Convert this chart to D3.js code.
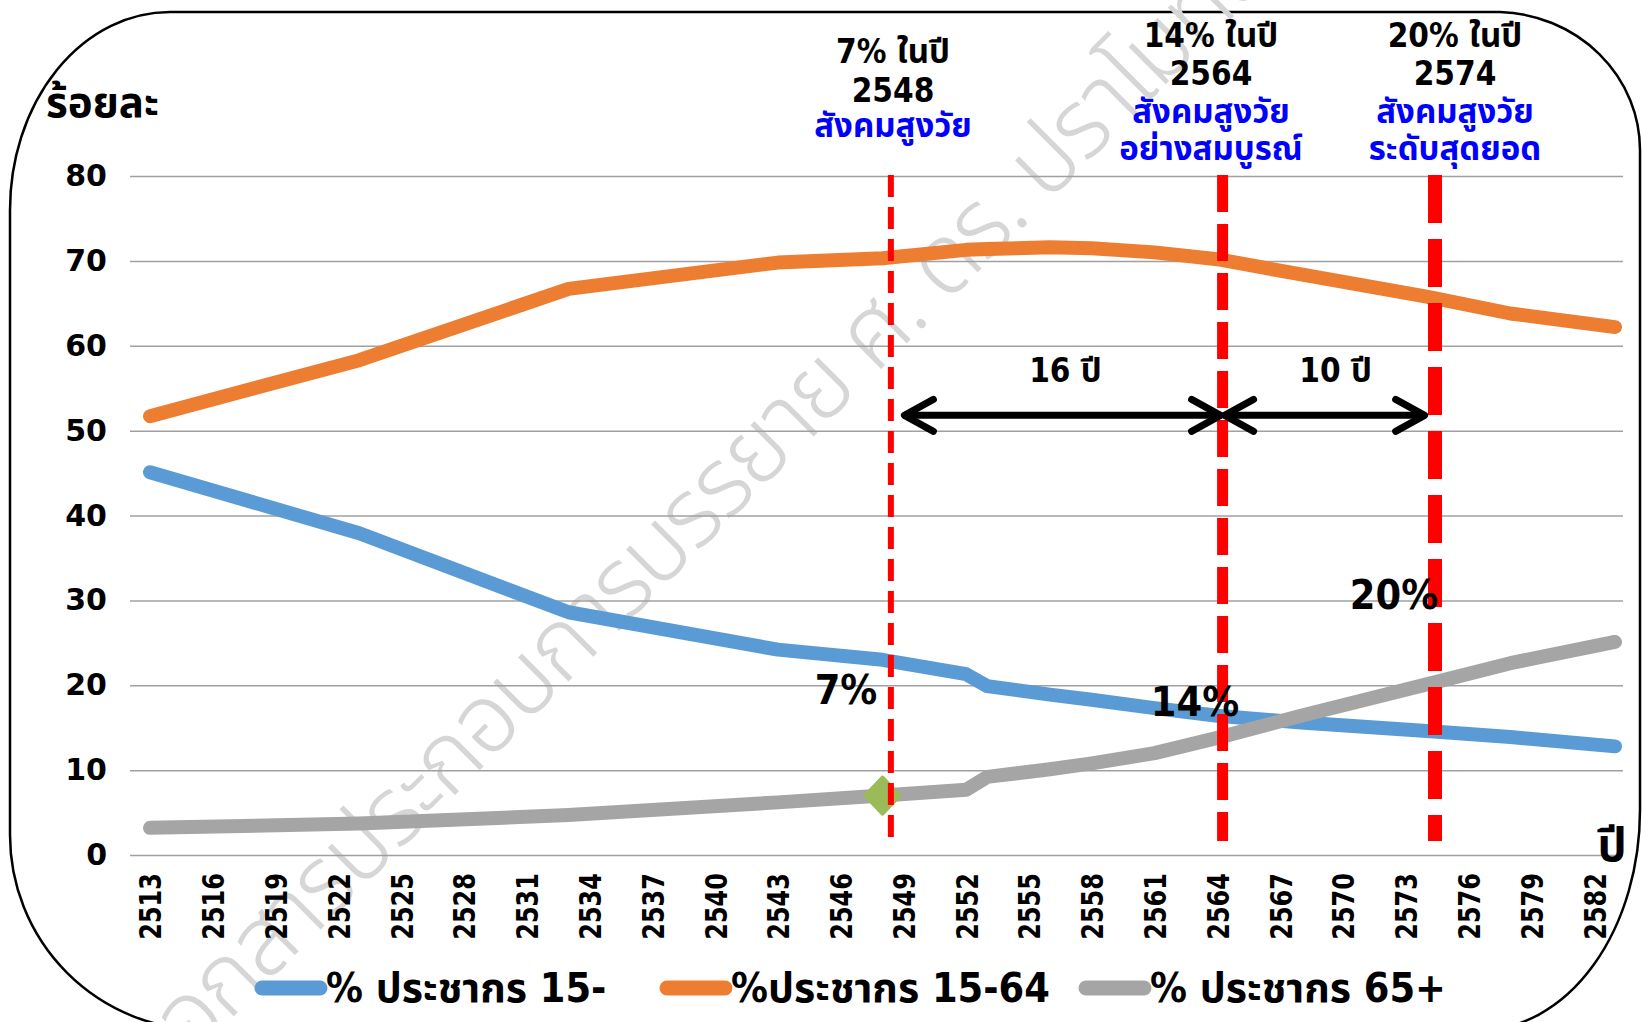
<!DOCTYPE html>
<html>
<head>
<meta charset="utf-8">
<script src="https://cdn.jsdelivr.net/npm/d3@7"></script>
<style>
  body { margin: 0; background: #fff; }
  svg { display: block; }
</style>
</head>
<body>
<div class="canva"></div>
<script>
// data (Buddhist-era years)
const years    = [2513, 2523, 2533, 2543, 2548, 2552, 2553, 2556, 2558, 2561, 2564, 2568, 2574, 2578, 2583];
const pctYoung = [45.1, 37.9, 28.6, 24.2, 23.0, 21.3, 19.9, 18.9, 18.3, 17.3, 16.4, 15.6, 14.6, 13.9, 12.8];
const pctWork  = [51.7, 58.3, 66.7, 69.8, 70.3, 71.3, 71.4, 71.6, 71.5, 71.0, 70.2, 68.4, 65.8, 63.8, 62.2];
const pctOld   = [3.2, 3.7, 4.7, 6.2, 7.0, 7.7, 9.2, 10.1, 10.8, 12.0, 13.8, 16.4, 20.1, 22.6, 25.1];

const seriesNames  = ["% ประชากร 15-", "%ประชากร 15-64", "% ประชากร 65+"];
const seriesColors = ["#5b9bd5", "#ed7d31", "#a5a5a5"];

const yTicks = [0, 10, 20, 30, 40, 50, 60, 70, 80];
const xTicks = [2513, 2516, 2519, 2522, 2525, 2528, 2531, 2534, 2537, 2540, 2543, 2546, 2549,
                2552, 2555, 2558, 2561, 2564, 2567, 2570, 2573, 2576, 2579, 2582];

// milestones: 7% / 14% / 20% aged society
const markYears  = [2548.4, 2564.25, 2574.4];
const markPct    = ["7%", "14%", "20%"];
const markYearLabel = ["2548", "2564", "2574"];
const markTitle  = [["สังคมสูงวัย"], ["สังคมสูงวัย", "อย่างสมบูรณ์"], ["สังคมสูงวัย", "ระดับสุดยอด"]];
const gapLabels  = ["16 ปี", "10 ปี"];
const gapSpans   = [[2548.95, 2564.25], [2564.25, 2574.0]];
const gapLevel   = 51.8;

const W = 1642, H = 1022;
const svg = d3.select(".canva").append("svg")
    .attr("width", W)
    .attr("height", H);

const x = d3.scaleLinear().domain([2513, 2583]).range([150, 1615]);
const y = d3.scaleLinear().domain([0, 80]).range([855, 176]);
const gridLeft = 130, gridRight = 1623;

const thaiBold = "'DejaVu Sans Condensed', 'Noto Sans Thai', 'Noto Sans', sans-serif";

// rounded frame
svg.append("path")
    .attr("d", "M170,12 H1500 A145,138 0 0 1 1640,150 V810 A160,220 0 0 1 1480,1030 H205 A195,195 0 0 1 10,835 V210 A160,198 0 0 1 170,12 Z")
    .attr("fill", "none")
    .attr("stroke", "#000")
    .attr("stroke-width", 2.5);

// watermark
svg.append("text")
    .attr("transform", "translate(175,1075) rotate(-45)")
    .attr("font-family", "'Noto Sans Thai', 'Noto Sans', sans-serif")
    .attr("font-size", 96)
    .attr("font-weight", 300)
    .attr("fill", "#d6d6d6")
    .attr("textLength", 1560)
    .text("เอกสารประกอบการบรรยาย ศ. ดร. ปราโมทย์");

// y axis + gridlines
const yAxis = svg.append("g")
    .attr("transform", `translate(${gridLeft},0)`)
    .call(d3.axisLeft(y).tickValues(yTicks).tickSize(-(gridRight - gridLeft)).tickPadding(23));
yAxis.select(".domain").remove();
yAxis.selectAll(".tick line").attr("stroke", "#a0a0a0").attr("stroke-width", 1.5);
yAxis.selectAll(".tick text")
    .attr("font-family", "'DejaVu Sans', sans-serif")
    .attr("font-weight", "bold")
    .attr("font-size", 30)
    .attr("fill", "#000");

// x axis labels (rotated)
const xAxis = svg.append("g")
    .attr("transform", "translate(0,855)")
    .call(d3.axisBottom(x).tickValues(xTicks).tickSize(0).tickFormat(d3.format("d")));
xAxis.select(".domain").remove();
xAxis.selectAll(".tick text")
    .attr("transform", "translate(0,18) rotate(-90) scale(1,1.27)")
    .attr("text-anchor", "end")
    .attr("dy", "0.36em")
    .attr("y", 0)
    .attr("font-family", "'DejaVu Sans', sans-serif")
    .attr("font-weight", "bold")
    .attr("font-size", 24)
    .attr("fill", "#000");

// series lines
const series = [pctYoung, pctWork, pctOld];
const line = d3.line().x((d, i) => x(years[i])).y(d => y(d));
svg.selectAll("path.series")
    .data(series)
    .enter()
    .append("path")
    .attr("class", "series")
    .attr("d", d => line(d))
    .attr("fill", "none")
    .attr("stroke", (d, i) => seriesColors[i])
    .attr("stroke-width", 14)
    .attr("stroke-linecap", "round")
    .attr("stroke-linejoin", "round");

// green diamond at 7%
svg.append("path")
    .attr("d", "M0,-18 L17,0 L0,18 L-17,0 Z")
    .attr("transform", `translate(${x(2548)},${y(7)})`)
    .attr("fill", "#9bbb59")
    .attr("stroke", "#9bbb59")
    .attr("stroke-width", 4)
    .attr("stroke-linejoin", "round");

// red dashed milestone lines
const markWidths = [6, 11, 14];
const markDash = ["22,10", "37,12", "48,16"];
svg.selectAll("line.mark")
    .data(markYears)
    .enter()
    .append("line")
    .attr("class", "mark")
    .attr("x1", d => x(d)).attr("x2", d => x(d))
    .attr("y1", 175).attr("y2", (d, i) => i === 0 ? 838 : 841)
    .attr("stroke", "#ff0000")
    .attr("stroke-width", (d, i) => markWidths[i])
    .attr("stroke-dasharray", (d, i) => markDash[i]);

// double arrows
const arrowG = svg.append("g")
    .attr("stroke", "#000")
    .attr("stroke-width", 7)
    .attr("stroke-linecap", "round")
    .attr("stroke-linejoin", "round")
    .attr("fill", "none");
gapSpans.forEach(s => {
    const x1 = x(s[0]), x2 = x(s[1]), yy = y(gapLevel);
    arrowG.append("path").attr("d", `M${x1 + 3},${yy} H${x2 - 3}`);
    arrowG.append("path").attr("d", `M${x1 + 31},${yy - 16} L${x1 + 2},${yy} L${x1 + 31},${yy + 16}`);
    arrowG.append("path").attr("d", `M${x2 - 31},${yy - 16} L${x2 - 2},${yy} L${x2 - 31},${yy + 16}`);
});
const gapShift = [3, 11];
svg.selectAll("text.gap")
    .data(gapLabels)
    .enter()
    .append("text")
    .attr("class", "gap")
    .attr("x", (d, i) => (x(gapSpans[i][0]) + x(gapSpans[i][1])) / 2 + gapShift[i])
    .attr("y", 382)
    .attr("text-anchor", "middle")
    .attr("font-family", thaiBold)
    .attr("font-weight", "bold")
    .attr("font-size", 33)
    .text(d => d);

// percentage labels near the crossing points
const pctPos = [[846, 704], [1195, 716], [1394, 609]];
svg.selectAll("text.pct")
    .data(markPct)
    .enter()
    .append("text")
    .attr("class", "pct")
    .attr("x", (d, i) => pctPos[i][0])
    .attr("y", (d, i) => pctPos[i][1])
    .attr("text-anchor", "middle")
    .attr("font-family", thaiBold)
    .attr("font-weight", "bold")
    .attr("font-size", 41)
    .text(d => d);

// milestone headings at top
const headX = [893, 1211, 1455];
const headY = [[63, 102, 137], [47, 85, 123, 160], [47, 85, 123, 160]];
markPct.forEach((p, i) => {
    const g = svg.append("g")
        .attr("font-family", thaiBold)
        .attr("font-weight", "bold")
        .attr("font-size", 33)
        .attr("text-anchor", "middle");
    g.append("text").attr("x", headX[i]).attr("y", headY[i][0]).attr("fill", "#000").text(p + " ในปี");
    g.append("text").attr("x", headX[i]).attr("y", headY[i][1]).attr("fill", "#000").text(markYearLabel[i]);
    markTitle[i].forEach((t, j) => {
        g.append("text").attr("x", headX[i]).attr("y", headY[i][2 + j]).attr("fill", "#0000ff").text(t);
    });
});

// axis titles
svg.append("text")
    .attr("x", 46).attr("y", 117)
    .attr("font-family", thaiBold)
    .attr("font-weight", "bold")
    .attr("font-size", 42)
    .text("ร้อยละ");
svg.append("text")
    .attr("x", 1612).attr("y", 861)
    .attr("text-anchor", "middle")
    .attr("font-family", thaiBold)
    .attr("font-weight", "bold")
    .attr("font-size", 46)
    .text("ปี");

// legend
const legendX = [262, 667, 1086];
const legend = svg.selectAll("g.legend")
    .data(seriesNames)
    .enter()
    .append("g")
    .attr("class", "legend")
    .attr("transform", (d, i) => `translate(${legendX[i]},988)`);
legend.append("line")
    .attr("x1", 0).attr("x2", 58)
    .attr("stroke", (d, i) => seriesColors[i])
    .attr("stroke-width", 15)
    .attr("stroke-linecap", "round");
legend.append("text")
    .attr("x", 64).attr("y", 14)
    .attr("font-family", thaiBold)
    .attr("font-weight", "bold")
    .attr("font-size", 41)
    .text(d => d);
</script>
</body>
</html>
